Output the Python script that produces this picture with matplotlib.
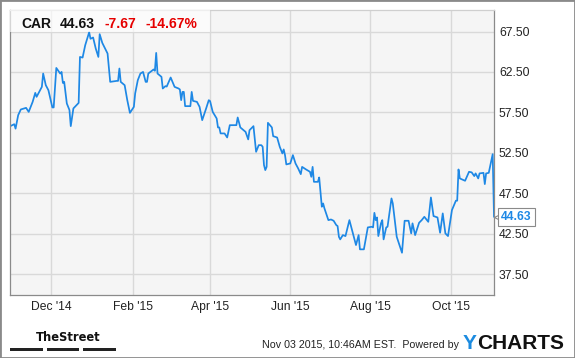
import matplotlib
matplotlib.use("Agg")
import matplotlib.pyplot as plt
from matplotlib import font_manager as fm
from matplotlib.patches import Rectangle
from matplotlib.transforms import blended_transform_factory, offset_copy
import pandas as pd

# ---- data ----
base_date = "2014-10-31"
day_offsets = [0, 3, 4, 6, 8, 12, 14, 17, 19, 20, 24, 25, 27, 29, 32, 33, 35, 38, 39, 40,
               41, 43, 45, 46, 48, 52, 53, 55, 57, 60, 61, 63, 65, 67, 68, 70, 74, 76, 81, 82,
               83, 84, 87, 89, 91, 94, 95, 97, 99, 101, 103, 104, 105, 109, 110, 111, 112, 115, 116, 118,
               119, 122, 125, 128, 129, 130, 131, 132, 133, 137, 138, 139, 142, 144, 146, 149, 151, 152, 154, 157,
               158, 159, 160, 163, 165, 167, 172, 173, 175, 179, 181, 182, 185, 187, 189, 191, 192, 193, 194, 195,
               196, 199, 200, 203, 205, 207, 208, 209, 210, 213, 215, 217, 219, 221, 222, 225, 228, 229, 230, 231,
               234, 235, 237, 238, 239, 242, 244, 246, 248, 249, 250, 251, 253, 255, 258, 262, 263, 265, 266, 269,
               272, 275, 276, 277, 278, 279, 280, 282, 283, 284, 286, 287, 290, 291, 294, 298, 300, 303, 305, 306,
               308, 311, 313, 315, 318, 320, 322, 325, 327, 329, 331, 333, 336, 339, 340, 341, 342, 346, 349, 351,
               353, 354, 356, 357, 360, 361, 362, 364, 367, 368]
prices = [55.81, 56.05, 55.50, 57.17, 57.87, 58.07, 57.57, 58.81, 59.92, 59.43, 60.66, 62.31, 60.87, 60.25, 58.12, 58.12, 63.00, 62.30, 62.51, 61.15,
          61.28, 58.61, 57.80, 55.81, 58.00, 58.68, 64.36, 64.28, 65.81, 67.41, 66.60, 66.76, 65.40, 64.36, 67.17, 66.09, 64.78, 61.28, 61.40, 61.40,
          62.93, 61.28, 60.87, 59.02, 57.45, 58.19, 59.85, 61.49, 62.31, 62.51, 61.28, 61.28, 62.31, 62.81, 62.65, 64.86, 62.31, 61.90, 60.46, 60.75,
          60.70, 61.82, 60.66, 60.46, 60.34, 59.02, 60.04, 60.04, 58.28, 58.28, 60.04, 58.93, 58.81, 58.19, 56.55, 58.00, 59.02, 58.90, 57.57, 56.76,
          55.65, 55.65, 54.91, 54.91, 54.41, 55.93, 55.93, 56.88, 55.65, 55.10, 54.17, 55.31, 55.81, 52.64, 53.46, 53.46, 53.26, 51.00, 50.38, 50.78,
          56.22, 55.65, 54.57, 54.41, 53.26, 52.44, 52.93, 52.23, 51.08, 51.20, 52.23, 51.20, 50.59, 49.88, 50.78, 50.46, 50.17, 49.55, 50.78, 48.93,
          48.93, 49.47, 45.85, 46.26, 45.65, 44.20, 44.28, 44.12, 43.59, 43.47, 42.14, 41.82, 42.35, 42.23, 44.20, 41.73, 41.12, 42.35, 40.59, 40.59,
          43.30, 43.38, 43.30, 45.10, 44.20, 44.53, 42.23, 43.80, 44.20, 41.82, 43.30, 43.38, 46.88, 46.26, 42.14, 40.17, 44.12, 44.12, 42.56, 43.80,
          42.35, 43.87, 44.20, 44.61, 43.99, 47.00, 44.70, 44.53, 42.64, 45.03, 42.56, 42.23, 45.44, 46.60, 46.60, 50.46, 49.35, 49.06, 50.17, 50.10,
          49.64, 49.97, 49.35, 49.97, 50.04, 48.65, 49.97, 50.04, 52.35, 44.63]

ticker = "CAR"
last_price = "44.63"
change = "-7.67"
change_pct = "-14.67%"
y_ticks = [37.5, 42.5, 47.5, 52.5, 57.5, 62.5, 67.5]
x_tick_dates = ["2014-12-01", "2015-02-01", "2015-04-01", "2015-06-01", "2015-08-01", "2015-10-01"]
x_tick_labels = ["Dec '14", "Feb '15", "Apr '15", "Jun '15", "Aug '15", "Oct '15"]
timestamp_text = "Nov 03 2015, 10:46AM EST.  Powered by"

dates = pd.Timestamp(base_date) + pd.to_timedelta(day_offsets, unit="D")

# ---- figure ----
W, H = 575, 358
fig = plt.figure(figsize=(W / 100, H / 100), dpi=100)
fig.patch.set_facecolor("white")
plt.rcParams["font.family"] = ["Liberation Sans", "DejaVu Sans"]

L, R, T, B = 10.3, 494.0, 10.3, 295.0
ax = fig.add_axes([L / W, 1 - B / H, (R - L) / W, (B - T) / H])
ax.set_facecolor("#f5f5f5")

blue = "#1e88e5"
ax.plot(dates, prices, color=blue, lw=1.25, zorder=2, solid_joinstyle="round")

ax.set_xlim(pd.Timestamp("2014-10-31"), pd.Timestamp("2015-11-03"))
ax.set_ylim(34.95, 70.12)

ax.set_yticks(y_ticks)
ax.set_yticklabels([f"{v:.2f}" for v in y_ticks])
ax.yaxis.tick_right()
ax.set_xticks(pd.to_datetime(x_tick_dates))
ax.set_xticklabels(x_tick_labels)
ax.tick_params(axis="both", length=0, labelsize=8.7, labelcolor="#222222")
ax.tick_params(axis="y", pad=3.6)
ax.tick_params(axis="x", pad=4.5)
ax.grid(True, color="#d9d9d9", lw=1.0, zorder=0)
ax.set_axisbelow(True)
for side in ["left", "bottom", "right"]:
    ax.spines[side].set_color("#8a8a8a")
    ax.spines[side].set_linewidth(0.9)
ax.spines["top"].set_color("#cfcfcf")
ax.spines["top"].set_linewidth(0.9)

# header box
ax.add_patch(Rectangle((0, 1 - (32 - T) / (B - T)), (210 - L) / (R - L), (32 - T) / (B - T),
                       transform=ax.transAxes, facecolor="white", alpha=0.65, edgecolor="none", zorder=3))
hy = 1 - 28.3 / H
fig.text(21.7 / W, hy, ticker, fontsize=10, fontweight="bold", color="#111111", va="baseline")
fig.text(60 / W, hy, last_price, fontsize=10, fontweight="bold", color="#111111", va="baseline")
fig.text(104.3 / W, hy, change, fontsize=10, fontweight="bold", color="#e60000", va="baseline")
fig.text(146 / W, hy, change_pct, fontsize=10, fontweight="bold", color="#e60000", va="baseline")

# last price label
btr = blended_transform_factory(ax.transAxes, ax.transData)
ax.plot([1.0], [prices[-1]], marker="<", markersize=6, markerfacecolor="white",
        markeredgecolor="#8a8a8a", markeredgewidth=0.8,
        transform=offset_copy(btr, fig=fig, x=3.0, y=0, units="points"), clip_on=False, zorder=5)
ax.text(1.0, prices[-1], last_price, transform=offset_copy(btr, fig=fig, x=5.3, y=0, units="points"),
        fontsize=8.7, fontweight="bold", color=blue, va="center", ha="left", clip_on=False, zorder=6,
        bbox=dict(boxstyle="square,pad=0.25", facecolor="white", edgecolor="#8a8a8a", lw=0.8))

# footer: condensed logo text
fonts = fm.fontManager.ttflist
names = {f.name for f in fonts}
logo_kw = dict(fontweight="bold", color="#111111", va="baseline")
if "Liberation Sans Narrow" in names:
    logo_kw.update(family=["Liberation Sans Narrow"], fontsize=10.5)
elif any(f.name == "DejaVu Sans" and f.stretch in ("condensed", "semi-condensed") for f in fonts):
    logo_kw.update(family=["DejaVu Sans"], fontstretch="condensed", fontsize=9.2)
elif "Roboto Condensed" in names:
    logo_kw.update(family=["Roboto Condensed"], fontsize=11)
else:
    logo_kw.update(family=["Liberation Sans", "DejaVu Sans"], fontsize=8.5)
fig.text(36 / W, 1 - 341 / H, "TheStreet", **logo_kw)
for x0, x1 in [(10, 43), (47, 79), (83, 116)]:
    fig.patches.append(Rectangle((x0 / W, 1 - 350.7 / H), (x1 - x0) / W, 3 / H,
                                 transform=fig.transFigure, facecolor="#222222", edgecolor="none"))
fig.text(261.5 / W, 1 - 348.5 / H, timestamp_text, fontsize=7.7, color="#222222", va="baseline")
fig.text(463 / W, 1 - 349 / H, "Y", fontsize=15, fontweight="bold", color="#1b8be0", va="baseline")
fig.text(477.5 / W, 1 - 349 / H, "CHARTS", fontsize=15, fontweight="bold", color="#111111", va="baseline")

# outer border
fig.patches.append(Rectangle((0, 0), 1, 1, transform=fig.transFigure, fill=False,
                             edgecolor="#8a8a8a", lw=2.0))

fig.savefig("out.png", dpi=100)
